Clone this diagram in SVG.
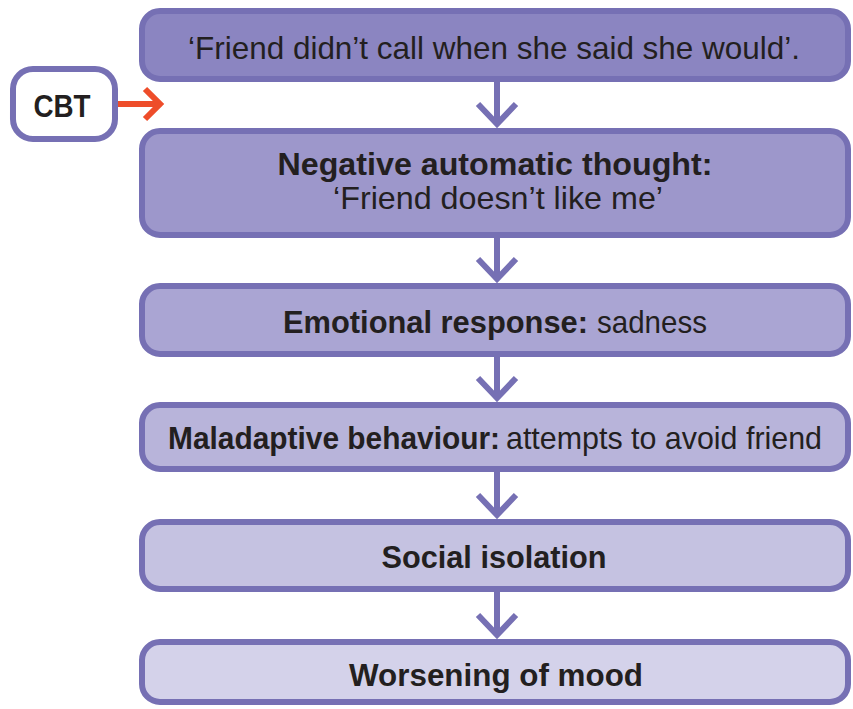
<svg xmlns="http://www.w3.org/2000/svg" width="853" height="709" viewBox="0 0 853 709">
  <style>
    .box { stroke: #7670b4; stroke-width: 6; }
    .lbl { font-family: "Liberation Sans Narrow", "Liberation Sans", "DejaVu Sans Condensed", sans-serif; font-size: 32px; fill: #231f20; text-anchor: middle; }
    .st { text-anchor: start; }
    .b { font-weight: bold; }
    .conn { fill: none; stroke: #7670b4; stroke-width: 6; }
    .cbt { fill: none; stroke: #ee4d2a; stroke-width: 6; }
  </style>

  <g id="connectors">
    <path class="conn" d="M497,80 V125 M478,104 L497,124 L516,104"/>
    <path class="conn" d="M497,236 V280 M478,259 L497,279 L516,259"/>
    <path class="conn" d="M497,355 V399 M478,378 L497,398 L516,378"/>
    <path class="conn" d="M497,470 V516 M478,495 L497,515 L516,495"/>
    <path class="conn" d="M497,590 V636 M478,615 L497,635 L516,615"/>
    <path class="cbt" d="M118,104 H158 M145,89 L160,104 L145,119"/>
  </g>

  <g id="cbt">
    <rect x="13" y="69" width="102" height="70" rx="20" fill="#ffffff" class="box"/>
    <text class="lbl b" x="62" y="117" font-size="34" textLength="57" lengthAdjust="spacingAndGlyphs">CBT</text>
  </g>

  <g id="trigger">
    <rect x="142" y="11" width="706" height="68" rx="18" fill="#8b85c1" class="box"/>
    <text class="lbl" x="494" y="59" textLength="612" lengthAdjust="spacingAndGlyphs">‘Friend didn’t call when she said she would’.</text>
  </g>

  <g id="thought">
    <rect x="142" y="131" width="706" height="104" rx="18" fill="#9d97cb" class="box"/>
    <text class="lbl b" x="495" y="175" textLength="435" lengthAdjust="spacingAndGlyphs">Negative automatic thought:</text>
    <text class="lbl" x="498" y="209" textLength="330" lengthAdjust="spacingAndGlyphs">‘Friend doesn’t like me’</text>
  </g>

  <g id="emotion">
    <rect x="142" y="286" width="706" height="68" rx="18" fill="#aaa5d3" class="box"/>
    <text class="lbl st b" x="283" y="333" textLength="305" lengthAdjust="spacingAndGlyphs">Emotional response:</text>
    <text class="lbl st" x="597" y="333" textLength="110" lengthAdjust="spacingAndGlyphs">sadness</text>
  </g>

  <g id="behaviour">
    <rect x="142" y="405" width="706" height="64" rx="18" fill="#b8b4da" class="box"/>
    <text class="lbl st b" x="168" y="449" textLength="332" lengthAdjust="spacingAndGlyphs">Maladaptive behaviour:</text>
    <text class="lbl st" x="506" y="449" textLength="316" lengthAdjust="spacingAndGlyphs">attempts to avoid friend</text>
  </g>

  <g id="isolation">
    <rect x="142" y="522" width="706" height="67" rx="18" fill="#c5c2e1" class="box"/>
    <text class="lbl b" x="494" y="568" textLength="225" lengthAdjust="spacingAndGlyphs">Social isolation</text>
  </g>

  <g id="mood">
    <rect x="142" y="642" width="706" height="60" rx="18" fill="#d4d2ea" class="box"/>
    <text class="lbl b" x="496" y="686" textLength="294" lengthAdjust="spacingAndGlyphs">Worsening of mood</text>
  </g>
</svg>
